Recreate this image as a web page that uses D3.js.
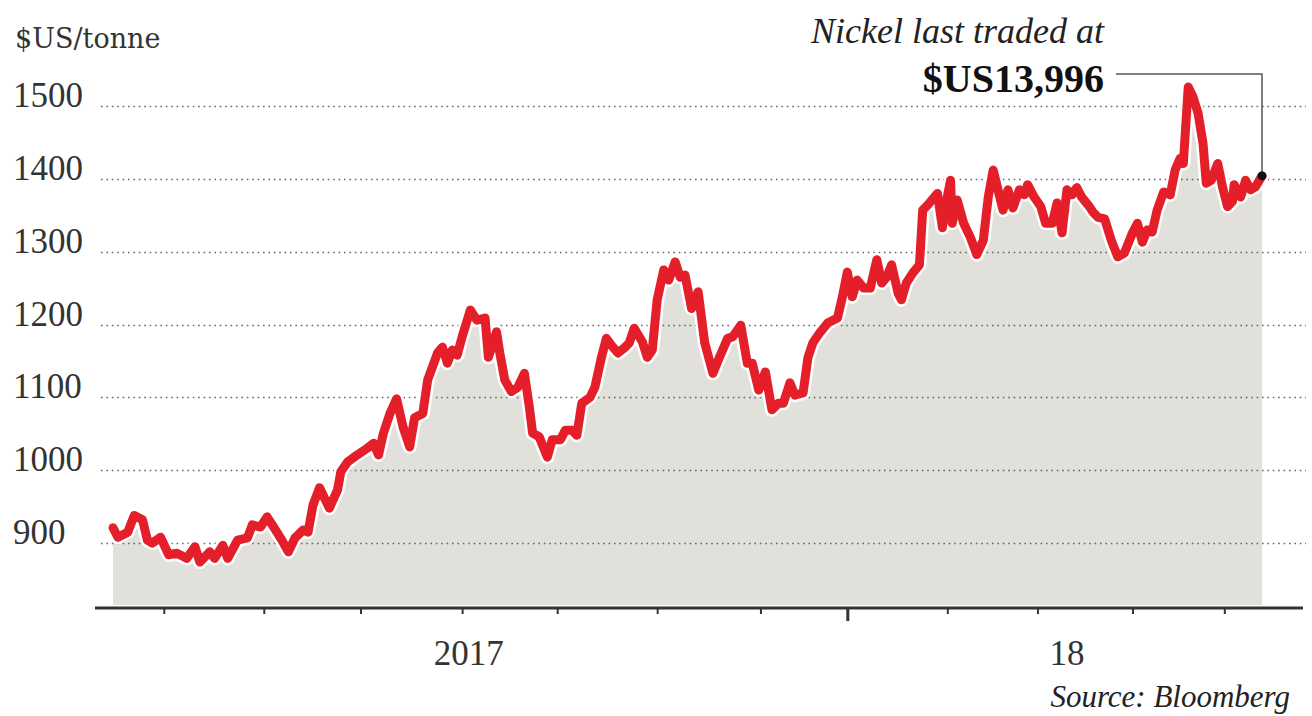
<!DOCTYPE html>
<html>
<head>
<meta charset="utf-8">
<script src="https://cdn.jsdelivr.net/npm/d3@7"></script>
<style>
  html, body { margin: 0; padding: 0; background: #ffffff; }
  svg { display: block; }
</style>
</head>
<body>
<svg id="chart" width="1312" height="716"></svg>
<script>
// ---- data ----
const startDateStr = "2016-05-29";
const endDateStr = "2018-04-30";
const dayOffsets = [0,3,9,13,18,21,24,29,34,39,45,50,53,59,62,67,70,76,82,85,90,94,98,103,107,111,116,119,122,126,132,137,139,143,149,155,159,162,165,169,173,177,181,184,189,192,198,201,204,207,210,213,218,222,227,229,234,236,239,243,247,251,254,256,260,265,268,273,276,280,283,286,291,294,298,301,305,308,312,315,318,323,326,329,332,336,339,343,346,349,353,357,361,366,370,375,378,383,387,390,394,398,402,406,409,413,416,421,424,427,431,436,442,445,448,451,454,458,462,466,469,472,475,479,481,484,488,492,494,497,503,506,508,511,512,515,519,523,527,531,534,537,543,546,549,553,556,558,562,566,569,573,576,579,582,585,588,591,595,598,601,605,609,613,617,622,625,628,631,634,637,641,645,648,651,653,656,659,662,665,667,670,674,677,680,683,684,688,691,694,697,701];
const prices = [921,908,915,938,932,904,900,908,884,886,879,895,874,888,879,897,879,904,907,925,922,936,922,904,888,907,918,915,952,976,948,973,998,1011,1021,1030,1037,1021,1051,1078,1098,1059,1032,1072,1078,1124,1161,1169,1147,1165,1158,1183,1220,1206,1209,1155,1190,1161,1124,1108,1114,1133,1087,1051,1046,1018,1042,1042,1055,1055,1048,1092,1100,1114,1155,1181,1169,1161,1168,1175,1195,1176,1155,1165,1234,1275,1261,1286,1265,1268,1222,1245,1175,1133,1155,1181,1183,1199,1147,1147,1110,1135,1083,1092,1092,1120,1103,1106,1155,1175,1188,1202,1209,1238,1272,1238,1261,1250,1250,1289,1257,1265,1282,1243,1234,1257,1271,1282,1357,1364,1380,1333,1364,1398,1339,1371,1339,1320,1296,1316,1375,1412,1357,1385,1360,1385,1378,1392,1375,1362,1339,1339,1367,1326,1385,1378,1388,1375,1364,1354,1347,1345,1316,1293,1298,1326,1339,1313,1330,1327,1357,1382,1378,1412,1428,1421,1526,1512,1490,1449,1394,1398,1421,1388,1362,1369,1392,1375,1398,1385,1389,1404];
const yTicks = [900, 1000, 1100, 1200, 1300, 1400, 1500];
const yFloor = 815;
const xTickDates = ["2016-06-29","2016-08-29","2016-10-27","2016-12-28","2017-02-24","2017-04-26","2017-06-28","2017-08-20","2017-10-20","2017-12-14","2018-02-10","2018-04-07"];
const majorTickDate = "2017-08-20";
const yearLabelDates = ["2017-01-01", "2018-01-01"];
const yearLabels = ["2017", "18"];
const unitLabel = "$US/tonne";
const noteLine1 = "Nickel last traded at";
const noteLine2 = "$US13,996";
const sourceText = "Source: Bloomberg";

// ---- setup ----
const parse = d3.utcParse("%Y-%m-%d");
const startDate = parse(startDateStr);
const endDate = parse(endDateStr);
const data = dayOffsets.map((d, i) => ({ date: d3.utcDay.offset(startDate, d), price: prices[i] }));

const svg = d3.select("#chart");
const x = d3.scaleUtc().domain([startDate, endDate]).range([113, 1262]);
const y = d3.scaleLinear().domain([yFloor, 1500]).range([605, 106]);

const serif = "'Liberation Serif', 'DejaVu Serif', serif";

// area
const area = d3.area()
  .x(d => x(d.date))
  .y0(y(yFloor))
  .y1(d => y(d.price));
svg.append("path").datum(data)
  .attr("d", area)
  .attr("fill", "#e1e0da");

// gridlines (dotted)
svg.append("g").selectAll("line").data(yTicks).join("line")
  .attr("x1", 101).attr("x2", 1306)
  .attr("y1", d => Math.round(y(d)) + 0.5).attr("y2", d => Math.round(y(d)) + 0.5)
  .attr("stroke", "#666")
  .attr("stroke-width", 1.6)
  .attr("stroke-dasharray", "1.6,3.8");

// y labels
svg.append("g").selectAll("text").data(yTicks).join("text")
  .attr("x", 13)
  .attr("y", d => y(d) + 1)
  .attr("font-family", serif)
  .attr("font-size", 35)
  .attr("fill", "#333")
  .text(d => d);

svg.append("text")
  .attr("x", 15).attr("y", 48)
  .attr("font-family", "'DejaVu Serif', serif")
  .attr("font-size", 27)
  .attr("fill", "#333")
  .text(unitLabel);

// line with white halo
const line = d3.line().x(d => x(d.date)).y(d => y(d.price));
svg.append("path").datum(data)
  .attr("d", line)
  .attr("fill", "none")
  .attr("stroke", "#ffffff")
  .attr("stroke-width", 14)
  .attr("stroke-linejoin", "round")
  .attr("stroke-linecap", "round");
svg.append("path").datum(data)
  .attr("d", line)
  .attr("fill", "none")
  .attr("stroke", "#e51f2a")
  .attr("stroke-width", 9)
  .attr("stroke-linejoin", "round")
  .attr("stroke-linecap", "round");

// x axis
const axisY = 608;
const xAxis = d3.axisBottom(x)
  .tickValues(xTickDates.map(parse))
  .tickSize(6)
  .tickFormat("");
const gx = svg.append("g").attr("transform", `translate(0,${axisY})`).call(xAxis);
gx.select(".domain").remove();
gx.selectAll(".tick line").attr("stroke", "#333").attr("stroke-width", 2);
gx.selectAll(".tick").filter(d => +d === +parse(majorTickDate))
  .select("line").attr("y2", 13).attr("stroke-width", 3);
svg.append("line")
  .attr("x1", 95).attr("x2", 1303)
  .attr("y1", axisY).attr("y2", axisY)
  .attr("stroke", "#333").attr("stroke-width", 3);

// year labels
svg.append("g").selectAll("text").data(yearLabelDates).join("text")
  .attr("x", d => x(parse(d)))
  .attr("y", 665)
  .attr("text-anchor", "middle")
  .attr("font-family", serif)
  .attr("font-size", 35)
  .attr("fill", "#333")
  .text((d, i) => yearLabels[i]);

// annotation
const last = data[data.length - 1];
const lx = x(last.date), ly = y(last.price);
svg.append("path")
  .attr("d", `M1116,74 H${lx} V${ly}`)
  .attr("fill", "none")
  .attr("stroke", "#555")
  .attr("stroke-width", 1.5);
svg.append("circle")
  .attr("cx", lx).attr("cy", ly).attr("r", 4.5)
  .attr("fill", "#111");

svg.append("text")
  .attr("x", 1104).attr("y", 43)
  .attr("text-anchor", "end")
  .attr("font-family", serif)
  .attr("font-style", "italic")
  .attr("font-size", 36)
  .attr("fill", "#222")
  .text(noteLine1);
svg.append("text")
  .attr("x", 1104).attr("y", 92)
  .attr("text-anchor", "end")
  .attr("font-family", serif)
  .attr("font-weight", "bold")
  .attr("font-size", 40)
  .attr("fill", "#111")
  .text(noteLine2);

svg.append("text")
  .attr("x", 1290).attr("y", 707)
  .attr("text-anchor", "end")
  .attr("font-family", serif)
  .attr("font-style", "italic")
  .attr("font-size", 31)
  .attr("fill", "#222")
  .text(sourceText);
</script>
</body>
</html>
